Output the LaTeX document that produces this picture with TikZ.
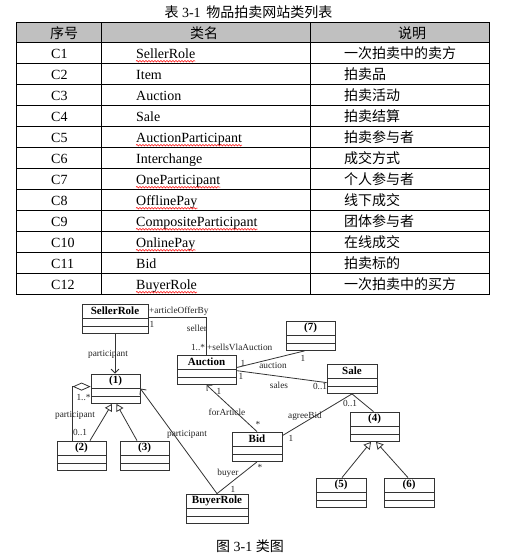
\documentclass[tikz,border=0pt]{standalone}
\usepackage{fontspec}
\setmainfont{Liberation Serif}
\newfontfamily\cjk{Noto Sans CJK SC}
\usetikzlibrary{arrows.meta,calc,decorations.pathmorphing}
\definecolor{linec}{HTML}{333333}
\definecolor{hdr}{HTML}{C0C0C0}
\tikzset{
  tt/.style={font=\fontsize{14}{16}\selectfont, inner sep=0pt},
  tbl/.style={draw=black, line width=0.9pt},
  wavy/.style={draw=red, line width=0.5pt, decorate, decoration={snake, amplitude=0.8pt, segment length=3pt}},
  cls/.style={draw=linec, line width=0.8pt, fill=white, minimum height=29.5pt, inner sep=0pt,
    path picture={
      \draw[linec, line width=0.8pt] ([yshift=-14.5pt]path picture bounding box.north west) -- ([yshift=-14.5pt]path picture bounding box.north east);
      \draw[linec, line width=0.8pt] ([yshift=7.5pt]path picture bounding box.south west) -- ([yshift=7.5pt]path picture bounding box.south east);
    }},
  cname/.style={label={[font=\bfseries\fontsize{11}{12}\selectfont, anchor=center, yshift=-7.5pt, inner sep=0pt]north:#1}},
  lbl/.style={font=\fontsize{9.3}{10}\selectfont, text=black!85, inner sep=0.5pt},
  assoc/.style={draw=linec, line width=0.8pt},
  navig/.style={assoc, -{Straight Barb[length=4pt,width=8pt]}},
  gen/.style={assoc, -{Triangle[open,length=7pt,width=8pt]}},
  agg/.style={assoc, -{Diamond[open,length=18pt,width=8pt]}},
}
\begin{document}
\begin{tikzpicture}[x=1pt,y=-1pt]
\useasboundingbox (0,0) rectangle (507,558);
\fill[white] (0,0) rectangle (507,558);

% ---------------- title ----------------
\node[tt] (title) at (248.5,12) {{\cjk 表} 3-1 \,{\cjk 物品拍卖网站类列表}};

% ---------------- table ----------------
\fill[hdr] (16,22) rectangle (489,42);
\draw[tbl] (16,22) rectangle (489,294);
\foreach \k in {0,...,11} { \draw[tbl] (16,{42+21*\k}) -- (489,{42+21*\k}); }
\draw[tbl] (101,22) -- (101,294);
\draw[tbl] (310,22) -- (310,294);

\node[tt] (h1) at (64,33) {\cjk 序号};
\node[tt] (h2) at (204,33) {\cjk 类名};
\node[tt] (h3) at (412,33) {\cjk 说明};

\foreach \i/\n/\d/\w in {
  1/SellerRole/一次拍卖中的卖方/1,
  2/Item/拍卖品/0,
  3/Auction/拍卖活动/0,
  4/Sale/拍卖结算/0,
  5/AuctionParticipant/拍卖参与者/1,
  6/Interchange/成交方式/0,
  7/OneParticipant/个人参与者/1,
  8/OfflinePay/线下成交/1,
  9/CompositeParticipant/团体参与者/1,
  10/OnlinePay/在线成交/1,
  11/Bid/拍卖标的/0,
  12/BuyerRole/一次拍卖中的买方/1} {
  \node[tt, anchor=base west] (no\i) at (51,{37+21*\i}) {C\i};
  \node[tt, anchor=base west] (name\i) at (136,{37+21*\i}) {\n};
  \node[tt, anchor=base west] (desc\i) at (344,{37+21*\i}) {\cjk \d};
  \ifnum\w=1
    \draw[wavy] ([yshift=-3.2pt]name\i.base west) -- ([yshift=-3.2pt]name\i.base east);
  \fi
}

% ---------------- class diagram ----------------
\node[cls, minimum width=66pt, cname=SellerRole] (seller) at (115,318.75) {};
\node[cls, minimum width=59pt, cname=Auction] (auction) at (206.5,369.75) {};
\node[cls, minimum width=49pt, cname={(7)}] (seven) at (310.5,335.75) {};
\node[cls, minimum width=50pt, cname=Sale] (sale) at (352,378.75) {};
\node[cls, minimum width=49pt, cname={(1)}] (one) at (115.5,388.75) {};
\node[cls, minimum width=49pt, cname={(2)}] (two) at (81.5,455.75) {};
\node[cls, minimum width=49pt, cname={(3)}] (three) at (144.5,455.75) {};
\node[cls, minimum width=50pt, cname=Bid] (bid) at (257,446.75) {};
\node[cls, minimum width=62pt, cname=BuyerRole] (buyer) at (217,508.75) {};
\node[cls, minimum width=49pt, cname={(4)}] (four) at (374.5,426.75) {};
\node[cls, minimum width=50pt, cname={(5)}] (five) at (341,492.75) {};
\node[cls, minimum width=50pt, cname={(6)}] (six) at (409,492.75) {};

% SellerRole -- Auction
\draw[assoc] ($(seller.north east)+(0,14)$) coordinate (sa) -| (auction.north);
\node[lbl, anchor=west] (l1) at (148.5,311) {+articleOfferBy};
\node[lbl] (l2) at (152,324) {1};
\node[lbl] (l3) at (197,328) {seller};
\node[lbl] (l4) at (198,347.5) {1..*};
\node[lbl, anchor=west] (l5) at (206.5,347.5) {+sellsVlaAuction};

% SellerRole -> (1)
\draw[navig] (seller.south) -- (seller.south |- one.north);
\node[lbl] (l6) at (108,354) {participant};

% Auction -- (7)
\draw[assoc] ($(auction.north east)+(0,13)$) -- ($(seven.south)+(-6,0)$);
\node[lbl] (l7) at (243,363.5) {1};
\node[lbl] (l8) at (273,365.5) {auction};
\node[lbl] (l9) at (303,358) {1};

% Auction -- Sale
\draw[assoc] ($(auction.north east)+(0,16)$) -- ($(sale.north west)+(0,19)$);
\node[lbl] (l10) at (241,376) {1};
\node[lbl] (l11) at (279,385) {sales};
\node[lbl] (l12) at (320,386) {0..1};

% Sale -- (4)
\draw[assoc] (sale.south) -- ($(four.north)+(-1,0)$);
\node[lbl] (l13) at (350,403.5) {0..1};

% Sale -- Bid
\draw[assoc] (sale.south) -- ($(bid.north east)+(0,4)$);
\node[lbl] (l14) at (305,416) {agreeBid};
\node[lbl] (l15) at (291,438) {1};

% Bid -> Auction
\draw[navig] (bid.north) -- (auction.south);
\node[lbl] (l16) at (219,391) {1};
\node[lbl] (l17) at (227,412) {forArticle};
\node[lbl] (l18) at (258,424) {*};

% Bid -- BuyerRole
\draw[assoc] (bid.south) -- (buyer.north);
\node[lbl] (l19) at (228,473) {buyer};
\node[lbl] (l20) at (260,467) {*};
\node[lbl] (l21) at (233,489) {1};

% BuyerRole -> (1)
\draw[navig] (buyer.north) -- ($(one.north east)+(0,15)$);
\node[lbl] (l22) at (187,434) {participant};

% aggregation (2) -- (1)
\draw[agg] ($(two.north west)+(16,0)$) |- ($(one.north west)+(0,13)$);
\node[lbl] (l23) at (83.5,397) {1..*};
\node[lbl] (l24) at (75,415) {participant};
\node[lbl] (l25) at (80,432) {0..1};

% generalization
\draw[gen] ($(two.north)+(8.5,0)$) -- ($(one.south)+(-3.5,0)$);
\draw[gen] ($(three.north)+(-7.5,0)$) -- ($(one.south)+(1,0)$);
\draw[gen] ($(five.north)+(1,0)$) -- ($(four.south)+(-3.5,0)$);
\draw[gen] ($(six.north)+(-1,0)$) -- ($(four.south)+(1.5,0)$);

% caption
\node[tt] (caption) at (250,546) {{\cjk 图} 3-1 {\cjk 类图}};
\end{tikzpicture}
\end{document}
